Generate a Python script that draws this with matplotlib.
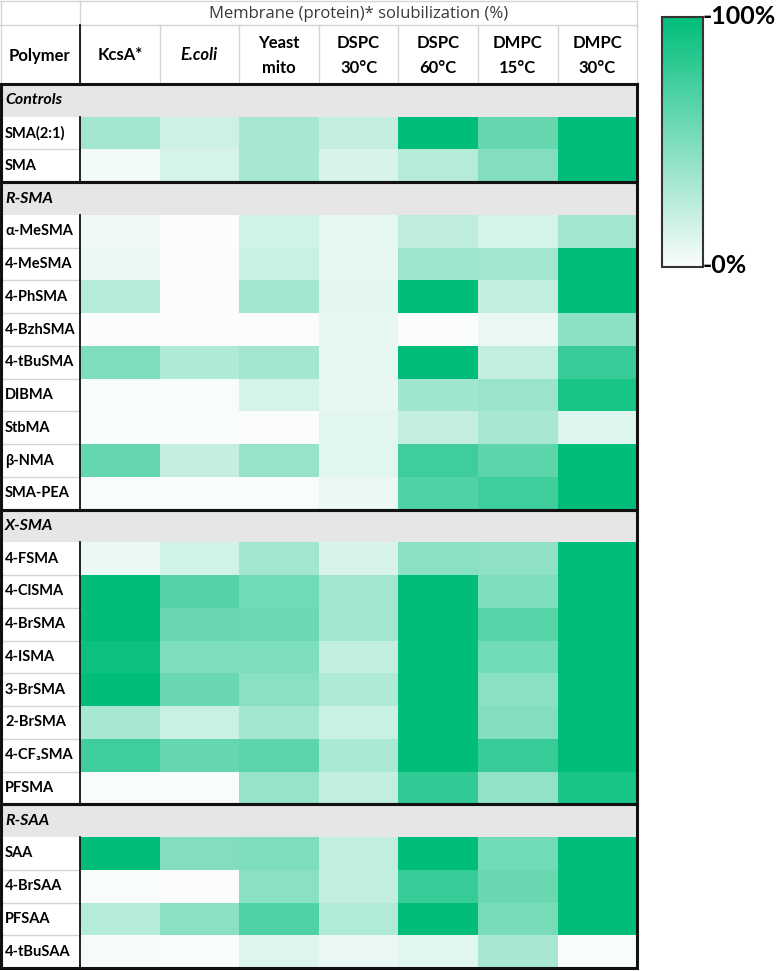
import numpy as np
import matplotlib
matplotlib.use("Agg")
import matplotlib.pyplot as plt
from matplotlib.colors import LinearSegmentedColormap
from matplotlib.patches import Rectangle

plt.rcParams["font.family"] = ["Lato", "DejaVu Sans"]

# ---------------- DATA ----------------
columns = ["KcsA*", "E.coli", "Yeast\nmito", "DSPC\n30°C", "DSPC\n60°C", "DMPC\n15°C", "DMPC\n30°C"]

section_names = ["Controls", "R-SMA", "X-SMA", "R-SAA"]

controls_labels = ["SMA(2:1)", "SMA"]
controls_values = [
    [35, 18, 33, 22, 100, 60, 100],
    [3, 15, 33, 14, 27, 48, 100],
]

rsma_labels = ["α-MeSMA", "4-MeSMA", "4-PhSMA", "4-BzhSMA", "4-tBuSMA",
               "DIBMA", "StbMA", "β-NMA", "SMA-PEA"]
rsma_values = [
    [5, 0, 17, 8, 24, 15, 35],
    [6, 0, 20, 8, 37, 35, 100],
    [28, 0, 35, 9, 100, 23, 100],
    [0, 0, 0, 8, 0, 7, 44],
    [50, 30, 35, 8, 100, 23, 78],
    [1, 1, 15, 8, 36, 38, 90],
    [1, 1, 0, 10, 22, 33, 12],
    [60, 22, 40, 10, 75, 63, 100],
    [1, 1, 1, 6, 68, 75, 100],
]

xsma_labels = ["4-FSMA", "4-ClSMA", "4-BrSMA", "4-ISMA", "3-BrSMA",
               "2-BrSMA", "4-CF\u2083SMA", "PFSMA"]
xsma_values = [
    [6, 17, 35, 14, 45, 43, 100],
    [100, 66, 55, 35, 100, 50, 100],
    [100, 58, 57, 35, 100, 65, 100],
    [95, 50, 50, 23, 100, 55, 100],
    [100, 58, 45, 30, 100, 45, 100],
    [33, 20, 35, 20, 100, 48, 100],
    [75, 60, 63, 32, 100, 78, 100],
    [1, 1, 40, 23, 80, 42, 90],
]

rsaa_labels = ["SAA", "4-BrSAA", "PFSAA", "4-tBuSAA"]
rsaa_values = [
    [100, 48, 50, 23, 100, 55, 100],
    [1, 0, 45, 23, 78, 58, 100],
    [28, 45, 68, 29, 100, 52, 100],
    [2, 1, 12, 7, 10, 33, 1],
]

sections = [
    (section_names[0], controls_labels, controls_values),
    (section_names[1], rsma_labels, rsma_values),
    (section_names[2], xsma_labels, xsma_values),
    (section_names[3], rsaa_labels, rsaa_values),
]

# ---------------- LAYOUT (pixels) ----------------
W, H = 776, 971
col0 = 80.0
col_w = 79.6
table_right = col0 + col_w * len(columns)
hdr1_top, hdr1_bot = 1.0, 25.0
hdr2_bot = 84.0
n_rows = sum(1 + len(s[1]) for s in sections)
row_h = (968.0 - hdr2_bot) / n_rows

grid_gray = "#d4d4d4"
header_gray = "#E7E6E6"
cmap = LinearSegmentedColormap.from_list("sol", ["#FAFCFE", "#00BE7A"])

fig = plt.figure(figsize=(W / 100, H / 100), dpi=100)
ax = fig.add_axes([0, 0, 1, 1])
ax.set_xlim(0, W)
ax.set_ylim(H, 0)
ax.axis("off")

# ---------------- BUILD GRID ----------------
grid = np.full((n_rows, len(columns)), np.nan)
row_info = []
r = 0
for name, labels, values in sections:
    row_info.append(("section", name, r))
    r += 1
    for lab, vals in zip(labels, values):
        grid[r] = vals
        row_info.append(("data", lab, r))
        r += 1

x_edges = col0 + col_w * np.arange(len(columns) + 1)
y_edges = hdr2_bot + row_h * np.arange(n_rows + 1)
mesh = ax.pcolormesh(x_edges, y_edges, np.ma.masked_invalid(grid),
                     cmap=cmap, vmin=0, vmax=100, zorder=1)

# ---------------- HEADER ----------------
ax.plot([0, table_right], [hdr1_top, hdr1_top], color=grid_gray, lw=1)
ax.plot([0, table_right], [hdr1_bot, hdr1_bot], color=grid_gray, lw=1)
ax.plot([0.5, 0.5], [hdr1_top, hdr2_bot], color=grid_gray, lw=1)
for x in x_edges:
    ax.plot([x, x], [hdr1_bot, hdr2_bot], color=grid_gray, lw=1)
ax.plot([col0, col0], [hdr1_top, hdr1_bot], color=grid_gray, lw=1)
ax.plot([table_right, table_right], [hdr1_top, hdr1_bot], color=grid_gray, lw=1)
ax.plot([col0, col0], [hdr1_bot, hdr2_bot], color="#111111", lw=1.3)

ax.text((col0 + table_right) / 2, (hdr1_top + hdr1_bot) / 2 + 1,
        "Membrane (protein)* solubilization (%)",
        ha="center", va="center", fontsize=12, color="#3a3a3a", family="Open Sans")

hdr_mid = (hdr1_bot + hdr2_bot) / 2 + 1
ax.text(col0 / 2, hdr_mid, "Polymer", ha="center", va="center",
        fontsize=12, fontweight="bold")
for i, col in enumerate(columns):
    ax.text(col0 + col_w * (i + 0.5), hdr_mid, col, ha="center", va="center",
            fontsize=12, fontweight="bold", linespacing=1.75,
            style="italic" if col == "E.coli" else "normal")

# ---------------- ROWS ----------------
for kind, label, ri in row_info:
    y = y_edges[ri]
    yc = y + row_h / 2
    if kind == "section":
        ax.add_patch(Rectangle((0, y), table_right, row_h, fc=header_gray,
                               ec="none", zorder=0))
        ax.text(5, yc, label, ha="left", va="center", fontsize=11.5,
                fontweight="bold", style="italic", zorder=3)
    else:
        ax.text(5, yc, label, ha="left", va="center", fontsize=10.5,
                fontweight="bold", zorder=3)
        ax.plot([0, col0], [y + row_h, y + row_h], color=grid_gray, lw=1, zorder=2)

# section borders
r = 0
for name, labels, values in sections:
    top = y_edges[r]
    bot = y_edges[r + 1 + len(labels)]
    ax.plot([col0, col0], [y_edges[r + 1], bot], color="#111111", lw=1.3, zorder=4)
    ax.add_patch(Rectangle((1.2, top), table_right - 1.2, bot - top, fill=False,
                           ec="#111111", lw=2.2, zorder=5))
    r += 1 + len(labels)

# ---------------- COLORBAR ----------------
cb_left, cb_right, cb_top, cb_bot = 662, 703, 17, 267
cax = fig.add_axes([cb_left / W, 1 - cb_bot / H, (cb_right - cb_left) / W,
                    (cb_bot - cb_top) / H])
cb = fig.colorbar(mesh, cax=cax)
cb.set_ticks([])
cb.outline.set_linewidth(1.5)
cb.outline.set_edgecolor("#333333")

fig.text(cb_right / W, 1 - cb_top / H, "-100%", ha="left", va="center",
         fontsize=18, fontweight="bold")
fig.text(cb_right / W, 1 - (cb_bot - 2) / H, "-0%", ha="left", va="center",
         fontsize=18, fontweight="bold")

fig.savefig("out.png", dpi=100, facecolor="white")
plt.close(fig)
